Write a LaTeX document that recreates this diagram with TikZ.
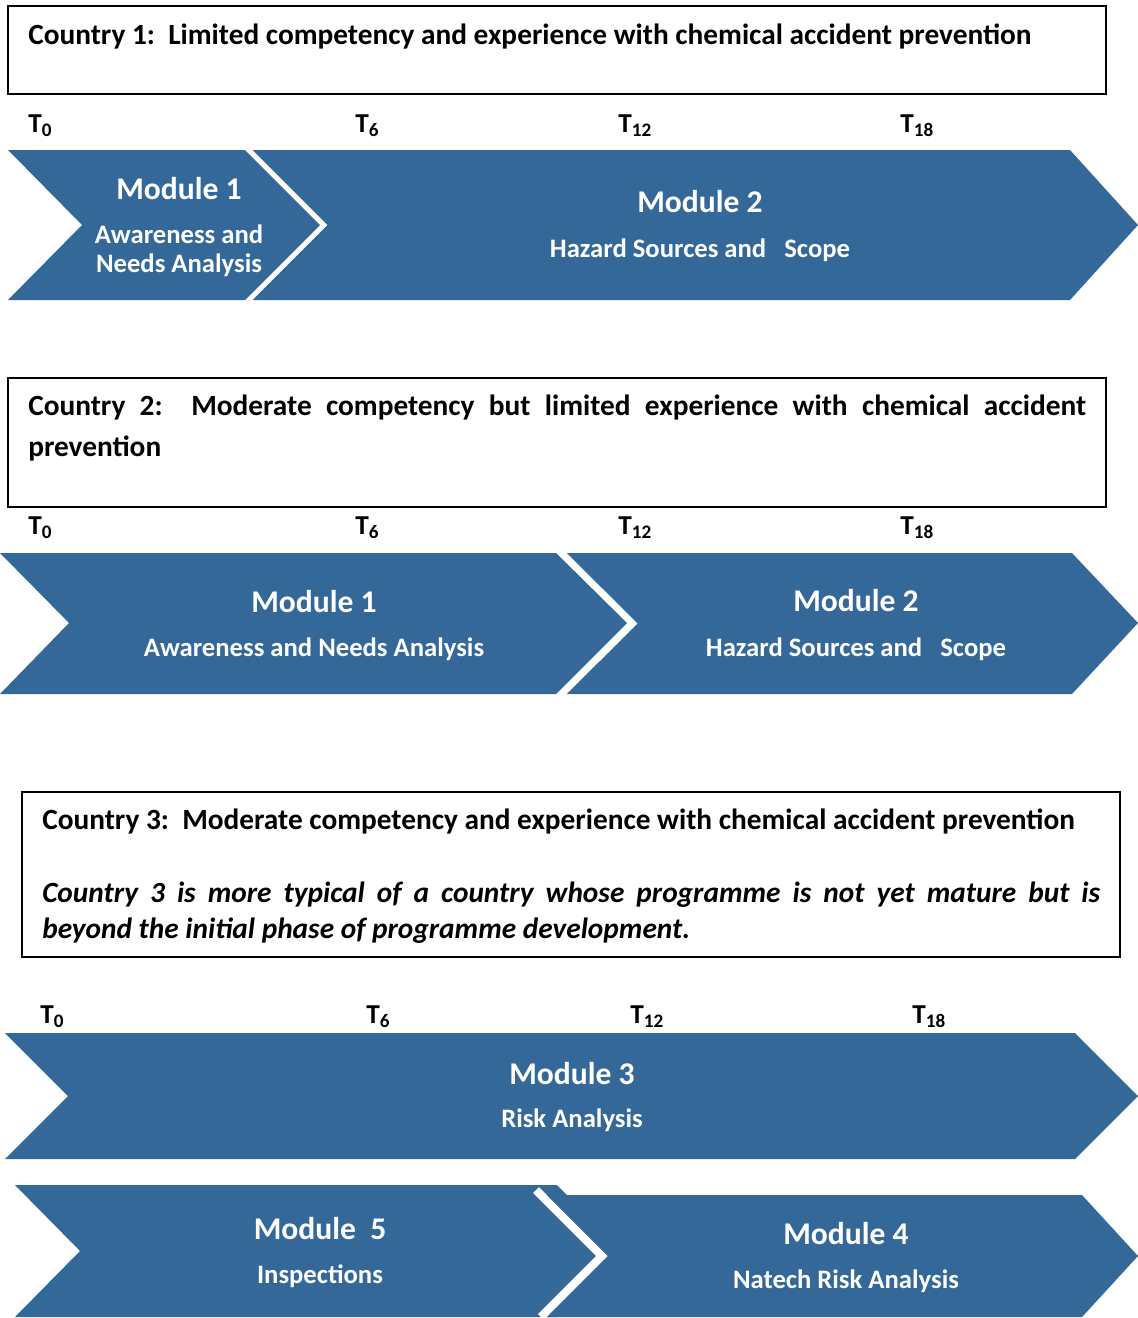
\documentclass[tikz,border=0pt]{standalone}
\usepackage{fontspec}
\setmainfont{Carlito}
\definecolor{modblue}{HTML}{346899}
\hyphenpenalty=10000
\exhyphenpenalty=10000

\begin{document}
\begin{tikzpicture}[x=0.75pt,y=-0.75pt,
                modfill/.style={fill=modblue},
                modgap/.style={draw=white,miter limit=20},
                modtitle/.style={text=white,font=\fontsize{23.7}{28}\selectfont\bfseries},
                modsub/.style={text=white,align=center,font=\fontsize{20}{21.75}\selectfont\bfseries},
                tlabel/.style={anchor=base west,inner sep=0pt,font=\fontsize{20.5}{24}\selectfont\bfseries},
                countrybox/.style={draw=black,line width=1.3pt},
                countrytext/.style={anchor=base west,text width=793.5pt,align=justify,inner sep=0pt,font=\fontsize{22}{30.75}\selectfont\bfseries}]
                \useasboundingbox (0,0) rectangle (1138,1318);
                \draw [countrybox] (8,6) rectangle (1106,94);
                \node [countrytext] (c1text) at (28,44) {Country 1:\ \ Limited competency and experience with chemical accident prevention};
                \node [tlabel] (r1t0) at (28,132) {T\textsubscript{0}};
                \node [tlabel] (r1t6) at (355,132) {T\textsubscript{6}};
                \node [tlabel] (r1t12) at (618,132) {T\textsubscript{12}};
                \node [tlabel] (r1t18) at (900,132) {T\textsubscript{18}};
                \fill [modfill] (250,150) -- (1070,150) -- (1138,225) -- (1070,300) -- (250,300) -- (325,225) -- cycle;
                \draw [modgap,line width=3.7pt] (244,145) -- (324,225) -- (244,305);
                \fill [modfill] (8,150) -- (245,150) -- (320,225) -- (245,300) -- (8,300) -- (82,225) -- cycle;
                \node [modtitle] (r1m1) at (179,189) {Module 1};
                \node [modsub] (r1m1sub) at (179,251) {Awareness and\\Needs Analysis};
                \node [modtitle] (r1m2) at (700,202) {Module 2};
                \node [modsub] (r1m2sub) at (700,250) {Hazard Sources and~~~Scope};

                \draw [countrybox] (8,378) rectangle (1106,507);
                \node [countrytext] (c2text) at (28,415) {Country 2:\ \ Moderate competency but limited experience with chemical accident prevention};
                \node [tlabel] (r2t0) at (28,534) {T\textsubscript{0}};
                \node [tlabel] (r2t6) at (355,534) {T\textsubscript{6}};
                \node [tlabel] (r2t12) at (618,534) {T\textsubscript{12}};
                \node [tlabel] (r2t18) at (900,534) {T\textsubscript{18}};
                \fill [modfill] (565,553) -- (1072,553) -- (1138,623) -- (1072,694) -- (565,694) -- (636,623) -- cycle;
                \draw [modgap,line width=5.8pt] (556,548) -- (632,623.5) -- (556,699);
                \fill [modfill] (0,553) -- (556,553) -- (627,623) -- (556,694) -- (0,694) -- (69,623) -- cycle;
                \node [modtitle] (r2m1) at (314,602) {Module 1};
                \node [modsub] (r2m1sub) at (314,649) {Awareness and Needs Analysis};
                \node [modtitle] (r2m2) at (856,601) {Module 2};
                \node [modsub] (r2m2sub) at (856,649) {Hazard Sources and~~~Scope};

                \draw [countrybox] (22,792) rectangle (1120,957);
                \node [countrytext,font=\fontsize{22}{27}\selectfont\bfseries] (c3text) at (42,829) {Country 3:\ \ Moderate competency and experience with chemical accident prevention\par\vspace{27.75pt}\textit{Country 3 is more typical of a country whose programme is not yet mature but is\linebreak beyond the initial phase of programme development.}};
                \node [tlabel] (r3t0) at (40,1023) {T\textsubscript{0}};
                \node [tlabel] (r3t6) at (366,1023) {T\textsubscript{6}};
                \node [tlabel] (r3t12) at (630,1023) {T\textsubscript{12}};
                \node [tlabel] (r3t18) at (912,1023) {T\textsubscript{18}};
                \fill [modfill] (5,1033) -- (1075,1033) -- (1138,1096) -- (1075,1159) -- (5,1159) -- (68,1096) -- cycle;
                \node [modtitle] (r3m3) at (572,1074) {Module 3};
                \node [modsub] (r3m3sub) at (572,1120) {Risk Analysis};

                \fill [modfill] (15,1185) -- (557,1185) -- (623,1251) -- (557,1317) -- (15,1317) -- (80,1251) -- cycle;
                \draw [modgap,line width=6.2pt] (536,1190) -- (602,1256) -- (541,1317);
                \fill [modfill] (547,1195) -- (1082,1195) -- (1138,1256) -- (1082,1317) -- (547,1317) -- (608,1256) -- cycle;
                \node [modtitle] (r4m5) at (320,1229) {Module~~5};
                \node [modsub] (r4m5sub) at (320,1276) {Inspections};
                \node [modtitle] (r4m4) at (846,1234) {Module 4};
                \node [modsub] (r4m4sub) at (846,1281) {Natech Risk Analysis};
            \end{tikzpicture}
\end{document}
